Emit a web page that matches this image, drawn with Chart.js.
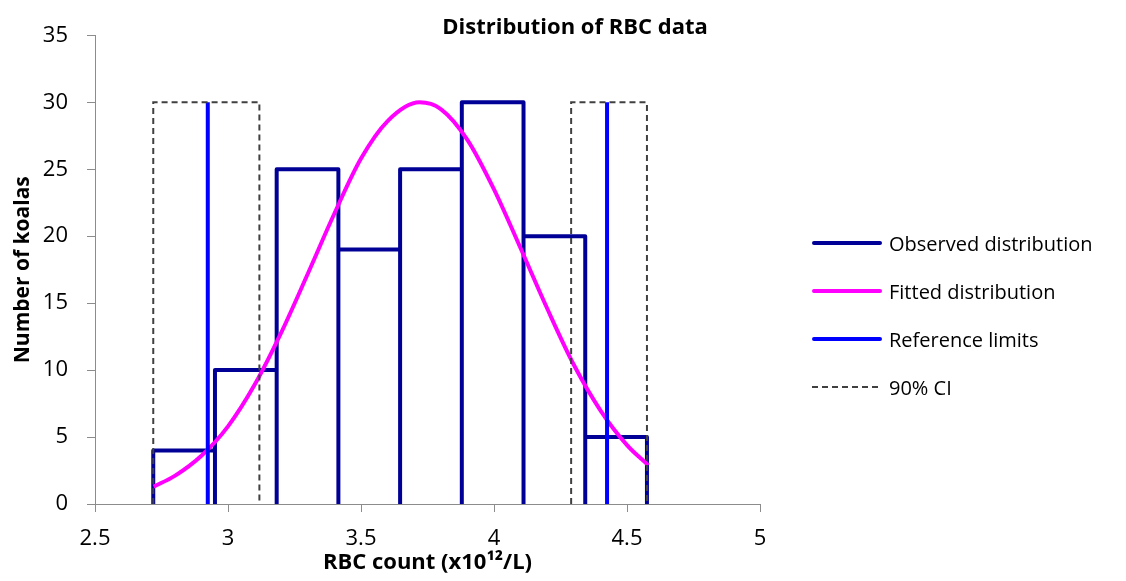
<!DOCTYPE html>
<html>
<head>
<meta charset="utf-8">
<script src="https://cdn.jsdelivr.net/npm/chart.js@4.4.1/dist/chart.umd.min.js"></script>
<style>
  html, body { margin: 0; padding: 0; background: #fff; }
  #wrap { position: relative; width: 1126px; height: 581px; }
  #legend { position: absolute; left: 812px; top: 219px; font-family: 'Open Sans', 'Liberation Sans', sans-serif; font-size: 20px; color: #000; }
  .legend_row { display: flex; align-items: center; height: 48px; white-space: nowrap; }
  .legend_line { width: 70px; margin-right: 7px; border-radius: 2px; }
</style>
</head>
<body>
<div id="wrap">
  <canvas id="rbc_chart" width="1126" height="581"></canvas>
  <div id="legend"></div>
</div>
<script>
// histogram bins
const binEdges = [2.719, 2.951, 3.183, 3.415, 3.647, 3.879, 4.111, 4.343, 4.575];
const binCounts = [4, 10, 25, 19, 25, 30, 20, 5];

// fitted curve, read point by point
const fitX = [2.72, 2.8, 2.9, 3.0, 3.1, 3.2, 3.3, 3.4, 3.5, 3.6, 3.72, 3.8, 3.9, 4.0, 4.1, 4.2, 4.3, 4.4, 4.5, 4.58];
const fitY = [1.3, 2.1, 3.6, 5.8, 8.9, 12.8, 17.2, 21.7, 25.8, 28.6, 30.0, 29.5, 27.2, 23.5, 19.1, 14.6, 10.4, 7.0, 4.4, 2.9];

// reference limits and their 90% CI
const refLimits = [2.924, 4.425];
const refHeight = 30;
const ciLow = [2.719, 4.290];
const ciHigh = [3.118, 4.575];
const ciHeight = 30;

const xTicks = [2.5, 3, 3.5, 4, 4.5, 5];
const FONT = "'Open Sans', 'Liberation Sans', sans-serif";

// outline of every bar, one rectangle after another
const observedPts = [];
binCounts.forEach((c, i) => {
  const l = binEdges[i], r = binEdges[i + 1];
  observedPts.push({ x: l, y: 0 }, { x: l, y: c }, { x: r, y: c }, { x: r, y: 0 });
});

const fittedPts = fitX.map((x, i) => ({ x: x, y: fitY[i] }));

const common = { pointRadius: 0, pointHoverRadius: 0, fill: false, showLine: true, tension: 0 };

const refSets = refLimits.map((x, i) => ({
  ...common,
  label: "Reference limits",
  inLegend: i === 0,
  data: [{ x: x, y: 0 }, { x: x, y: refHeight }],
  borderColor: "#0000ff", backgroundColor: "#0000ff", borderWidth: 4, order: 2,
}));

const ciSets = ciLow.map((l, i) => ({
  ...common,
  label: "90% CI",
  inLegend: i === 0,
  data: [{ x: l, y: 0 }, { x: l, y: ciHeight }, { x: ciHigh[i], y: ciHeight }, { x: ciHigh[i], y: 0 }],
  borderColor: "#404040", backgroundColor: "#404040", borderWidth: 2, borderDash: [6, 4], order: 1,
}));

const chart = new Chart("rbc_chart", {
  type: "scatter",
  data: {
    datasets: [
      { ...common, label: "Observed distribution", inLegend: true, data: observedPts,
        borderColor: "#000096", backgroundColor: "#000096", borderWidth: 4,
        borderJoinStyle: "round", order: 4 },
      { ...common, label: "Fitted distribution", inLegend: true, data: fittedPts,
        borderColor: "#ff00ff", backgroundColor: "#ff00ff", borderWidth: 4,
        cubicInterpolationMode: "monotone", order: 3 },
      ...refSets,
      ...ciSets,
    ],
  },
  options: {
    responsive: false,
    animation: false,
    layout: { padding: { top: 0, right: 0, bottom: 3, left: 24 } },
    plugins: {
      tooltip: { enabled: false },
      legend: { display: false },
      title: {
        display: true,
        text: "Distribution of RBC data",
        color: "#000",
        font: { family: FONT, size: 22, weight: "bold", lineHeight: 0.7 },
        padding: { top: 20, bottom: 0 },
      },
    },
    scales: {
      x: {
        type: "linear",
        min: 2.5,
        max: 5,
        afterBuildTicks: (scale) => { scale.ticks = xTicks.map((v) => ({ value: v })); },
        afterFit: (scale) => { scale.height = 74; },
        ticks: {
          color: "#000", padding: 14, font: { family: FONT, size: 22 },
          callback: (v) => String(v),
        },
        grid: { drawOnChartArea: false, drawTicks: true, tickLength: 8, color: "#8c8c8c" },
        border: { color: "#8c8c8c", width: 1 },
        title: {
          display: true,
          text: "RBC count (x10¹²/L)",
          color: "#000",
          font: { family: FONT, size: 22, weight: "bold" },
          padding: { top: 0, bottom: 2 },
        },
      },
      y: {
        min: 0,
        max: 35,
        afterFit: (scale) => { scale.width = 71; },
        ticks: { stepSize: 5, color: "#000", padding: 19, font: { family: FONT, size: 22 } },
        grid: { drawOnChartArea: false, drawTicks: true, tickLength: 8, color: "#8c8c8c" },
        border: { color: "#8c8c8c", width: 1 },
        title: {
          display: true,
          text: "Number of koalas",
          color: "#000",
          font: { family: FONT, size: 21, weight: "bold" },
          padding: { top: -14, bottom: 0 },
        },
      },
      // empty strip on the right that holds the legend
      gap: {
        axis: "y",
        position: "right",
        display: true,
        ticks: { display: false },
        grid: { display: false },
        border: { display: false },
        afterFit: (scale) => { scale.width = 366; },
      },
    },
  },
});

// legend rows taken from the chart's own datasets
const legendBox = document.getElementById("legend");
chart.data.datasets.filter((ds) => ds.inLegend).forEach((ds) => {
  const row = document.createElement("div");
  row.className = "legend_row";
  const line = document.createElement("div");
  line.className = "legend_line";
  line.style.height = ds.borderWidth + "px";
  if (ds.borderDash) {
    line.style.borderRadius = "0";
    line.style.background = `repeating-linear-gradient(90deg, ${ds.borderColor} 0 ${ds.borderDash[0]}px, transparent ${ds.borderDash[0]}px ${ds.borderDash[0] + ds.borderDash[1]}px)`;
  } else {
    line.style.background = ds.borderColor;
  }
  const text = document.createElement("span");
  text.textContent = ds.label;
  row.appendChild(line);
  row.appendChild(text);
  legendBox.appendChild(row);
});
</script>
</body>
</html>
